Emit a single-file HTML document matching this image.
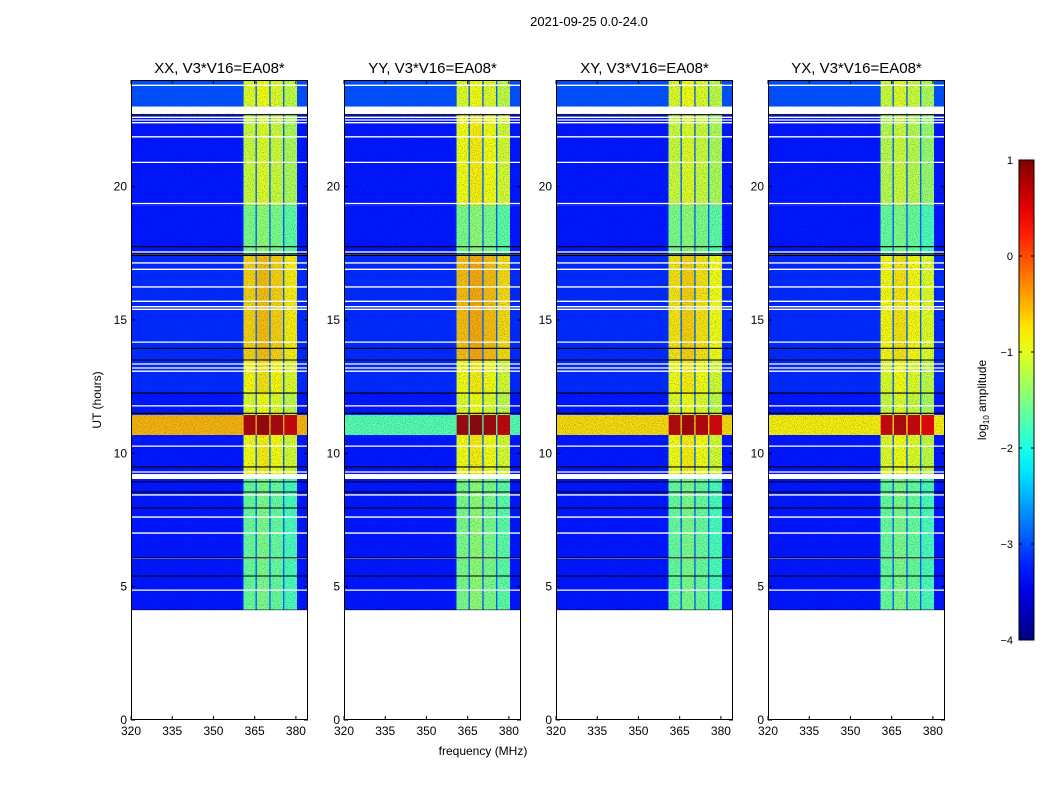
<!DOCTYPE html>
<html><head><meta charset="utf-8"><style>
body{margin:0;background:#fff;}
svg text{font-family:"Liberation Sans",sans-serif;}
</style></head><body>
<svg id="fig" width="1050" height="800" xmlns="http://www.w3.org/2000/svg">
<defs>
<filter id="noise" x="0" y="0" width="100%" height="100%">
<feTurbulence type="fractalNoise" baseFrequency="0.9" numOctaves="1" seed="3"/>
<feColorMatrix type="matrix" values="0 0 0 0 0  0 0 0 0 0.1  0 0 0 0 0.4  0 0 0 -2.2 1.2"/>
</filter>
<linearGradient id="cbar" x1="0" y1="1" x2="0" y2="0"></linearGradient>
</defs>
<text x="589" y="26" font-size="13" text-anchor="middle">2021-09-25 0.0-24.0</text>
<g id="panels"></g>
<text x="483" y="755" font-size="12" text-anchor="middle">frequency (MHz)</text>
<text transform="translate(101,400) rotate(-90)" font-size="12" text-anchor="middle">UT (hours)</text>
<g id="colorbar"></g>
<text transform="translate(986,400) rotate(-90)" font-size="12" text-anchor="middle">log<tspan font-size="8" dy="3">10</tspan><tspan dy="-3"> amplitude</tspan></text>
</svg>
<script>
const panelTitles = ["XX, V3*V16=EA08*","YY, V3*V16=EA08*","XY, V3*V16=EA08*","YX, V3*V16=EA08*"];
const segStart = [4.12, 9.22, 10.69, 11.44, 12.3, 13.5, 17.45, 19.3, 23.0];
const segEnd   = [9.04, 10.69, 11.44, 12.3, 13.5, 17.4, 19.3, 22.7, 24.0];
const bandLevelXX = [-1.6, -0.9, 0.75, -1.0, -0.85, -0.65, -1.5, -1.1, -1.0];
const bandLevelYY = [-1.5, -0.9, 0.8, -1.0, -0.9, -0.55, -1.5, -0.9, -1.0];
const bandLevelXY = [-1.6, -0.9, 0.7, -1.0, -0.9, -0.75, -1.5, -1.1, -1.0];
const bandLevelYX = [-1.6, -1.0, 0.6, -1.1, -1.0, -0.85, -1.6, -1.2, -1.1];
const bgLevelXX = [-3.3, -3.3, -0.5, -3.3, -3.2, -3.2, -3.3, -3.3, -3.0];
const bgLevelYY = [-3.3, -3.3, -1.7, -3.3, -3.2, -3.2, -3.3, -3.3, -3.0];
const bgLevelXY = [-3.3, -3.3, -0.7, -3.3, -3.2, -3.2, -3.3, -3.3, -3.0];
const bgLevelYX = [-3.3, -3.3, -0.8, -3.3, -3.2, -3.2, -3.3, -3.3, -3.0];
const subBandLo = [361, 365.8, 370.8, 375.8];
const subBandHi = [365.3, 370.3, 375.3, 380.4];
const subBandOffset = [0, 0.1, 0, -0.15];
const whiteLines = [23.8, 22.6, 22.5, 22.4, 21.87, 20.91, 19.37, 17.55, 17.14, 16.9, 16.24, 15.7, 15.5, 15.4, 14.17, 13.35, 13.2, 13.08, 11.78, 10.27, 9.3, 8.44, 7.61, 7.01, 6.07, 4.87];
const blackLines = [22.7, 17.75, 17.48, 17.42, 13.94, 13.5, 12.26, 11.5, 9.49, 8.93, 8.55, 7.95, 6.08, 5.4, 4.12];
const gapStart = [22.75, 9.04];
const gapEnd = [23.0, 9.22];
const xTicks = [320, 335, 350, 365, 380];
const yTicks = [0, 5, 10, 15, 20];
const cbTicks = [1, 0, -1, -2, -3, -4];

const bandLevels = [bandLevelXX, bandLevelYY, bandLevelXY, bandLevelYX];
const bgLevels = [bgLevelXX, bgLevelYY, bgLevelXY, bgLevelYX];
const panelX = [131, 344, 556, 768];
const PW = 177, PT = 80, PB = 720, FMIN = 320, FMAX = 384.4;
const NS = "http://www.w3.org/2000/svg";
function jet(v){
  let t = (v + 4) / 5; t = Math.max(0, Math.min(1, t));
  const c = x => Math.round(255 * Math.max(0, Math.min(1, x)));
  return `rgb(${c(1.5-Math.abs(4*t-3))},${c(1.5-Math.abs(4*t-2))},${c(1.5-Math.abs(4*t-1))})`;
}
const yS = h => PB - (h / 24) * (PB - PT);
function mk(tag, attrs, parent){
  const e = document.createElementNS(NS, tag);
  for (const k in attrs) e.setAttribute(k, attrs[k]);
  parent.appendChild(e); return e;
}
const root = document.getElementById('panels');
panelTitles.forEach((title, p) => {
  const x0 = panelX[p];
  const xS = f => x0 + (f - FMIN) / (FMAX - FMIN) * PW;
  const g = mk('g', {}, root);
  
  
  const cp = mk('clipPath', {id: 'clip' + p}, g);
  mk('rect', {x: x0, y: PT, width: PW, height: yS(4.12) - PT}, cp);
  const data = mk('g', {'clip-path': `url(#clip${p})`}, g);
  
  
  segStart.forEach((s, i) => {
    const e = segEnd[i];
    const bg = mk('rect', {x: x0, y: yS(e), width: PW, height: yS(s) - yS(e), fill: jet(bgLevels[p][i])}, data);
    
    
    mk('rect', {x: xS(360.7), y: yS(e), width: xS(380.4) - xS(360.7), height: yS(s) - yS(e), fill: jet(Math.max(bgLevels[p][i], -2.9))}, data);
    subBandLo.forEach((lo, b) => {
      const r = mk('rect', {x: xS(lo), y: yS(e), width: xS(subBandHi[b]) - xS(lo), height: yS(s) - yS(e), fill: jet(bandLevels[p][i] + subBandOffset[b])}, data);
      
      
    });
  });
  mk('rect', {x: x0, y: PT, width: PW, height: yS(4.12) - PT, filter: 'url(#noise)', opacity: 0.6}, data);
  gapStart.forEach((s, i) => mk('rect', {x: x0, y: yS(gapEnd[i]), width: PW, height: yS(s) - yS(gapEnd[i]), fill: '#fff'}, data));
  whiteLines.forEach(h => mk('line', {x1: x0, x2: x0 + PW, y1: yS(h), y2: yS(h), stroke: '#fff', 'stroke-width': 1.3}, data));
  blackLines.forEach(h => mk('line', {x1: x0, x2: x0 + PW, y1: yS(h), y2: yS(h), stroke: '#000', 'stroke-width': 1.1}, data));
  const frame = mk('rect', {x: x0 + 0.5, y: PT + 0.5, width: PW - 1, height: PB - PT - 1, fill: 'none', stroke: '#000', 'stroke-width': 1}, g);
  
  
  const t = mk('text', {x: x0 + PW / 2, y: 73, 'font-size': 15, 'text-anchor': 'middle'}, g);
  t.textContent = title;
  
  
  xTicks.forEach(v => {
    const x = xS(v);
    mk('line', {x1: x, x2: x, y1: PB, y2: PB - 4, stroke: '#000'}, g);
    mk('line', {x1: x, x2: x, y1: PT, y2: PT + 4, stroke: '#000'}, g);
    const tl = mk('text', {x: x, y: PB + 15, 'font-size': 12, 'text-anchor': 'middle'}, g);
    tl.textContent = v;
    
    
  });
  yTicks.forEach(v => {
    const y = yS(v);
    mk('line', {x1: x0, x2: x0 + 4, y1: y, y2: y, stroke: '#000'}, g);
    mk('line', {x1: x0 + PW, x2: x0 + PW - 4, y1: y, y2: y, stroke: '#000'}, g);
    const tl = mk('text', {x: x0 - 4, y: y + 4, 'font-size': 12, 'text-anchor': 'end'}, g);
    tl.textContent = v;
    
    
  });
});
const grad = document.getElementById('cbar');
for (let i = 0; i <= 20; i++) {
  const v = -4 + i * 0.25;
  mk('stop', {offset: (i / 20), 'stop-color': jet(v)}, grad);
}
const cb = document.getElementById('colorbar');
const CBT = 160, CBB = 640, CBX = 1019, CBW = 15;
mk('rect', {x: CBX, y: CBT, width: CBW, height: CBB - CBT, fill: 'url(#cbar)', stroke: '#000', 'stroke-width': 1}, cb);
cbTicks.forEach(v => {
  const y = CBB - (v + 4) / 5 * (CBB - CBT);
  mk('line', {x1: CBX, x2: CBX + 3, y1: y, y2: y, stroke: '#000'}, cb);
  mk('line', {x1: CBX + CBW, x2: CBX + CBW - 3, y1: y, y2: y, stroke: '#000'}, cb);
  const tl = mk('text', {x: CBX - 6, y: y + 4, 'font-size': 11, 'text-anchor': 'end'}, cb);
  tl.textContent = v < 0 ? '\u2212' + (-v) : v;
  
  
});
</script>
</body></html>
